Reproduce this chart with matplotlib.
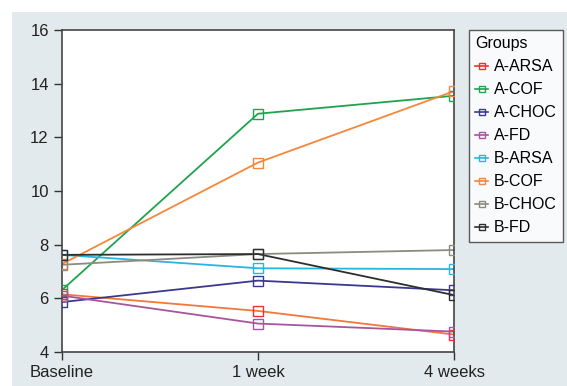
import numpy as np
import matplotlib.pyplot as plt
from matplotlib.patches import Rectangle

plt.rcParams['font.family'] = ['Liberation Sans', 'DejaVu Sans']

times  = ['Baseline', '1 week', '4 weeks']
groups = ['A-ARSA', 'A-COF', 'A-CHOC', 'A-FD', 'B-ARSA', 'B-COF', 'B-CHOC', 'B-FD']

a_arsa = [6.15, 5.53, 4.65]
a_cof  = [6.31, 12.88, 13.55]
a_choc = [5.86, 6.66, 6.30]
a_fd   = [6.10, 5.06, 4.76]
b_arsa = [7.62, 7.12, 7.09]
b_cof  = [7.28, 11.06, 13.72]
b_choc = [7.25, 7.65, 7.80]
b_fd   = [7.62, 7.65, 6.12]

series = [a_arsa, a_cof, a_choc, a_fd, b_arsa, b_cof, b_choc, b_fd]
colors = ['#e8362a', '#1fa34f', '#3b3890', '#a8559e', '#2cb3e6', '#f5873a', '#8c8b80', '#2e2e2e']
line_colors = ['#f3773a', '#1fa34f', '#3b3890', '#a8559e', '#2cb3e6', '#f5873a', '#8c8b80', '#2e2e2e']

fig = plt.figure(figsize=(5.67, 3.86), dpi=100)
fig.patches.append(Rectangle((12/567, 0), 1, 1 - 12/386, transform=fig.transFigure,
                             facecolor='#e2eaed', edgecolor='none', zorder=-10))
ax = fig.add_axes([62/567, 1 - 352/386, (454 - 62)/567, (352 - 30)/386])

x = np.arange(len(times))
for name, vals, c, lc in zip(groups, series, colors, line_colors):
    ax.plot(x, vals, color=lc, lw=1.3, zorder=2)
    ax.plot(x, vals, ls='none', marker='s', ms=6.5, mfc='none', mec=c, mew=1.0, zorder=3)
    ax.plot([], [], color=c, lw=1.2, marker='s', ms=5, mfc='none', mec=c, label=name)

ax.set_xlim(0, 2)
ax.set_ylim(4, 16)
ax.set_xticks(x)
ax.set_xticklabels(times)
ax.set_yticks([4, 6, 8, 10, 12, 14, 16])
ax.tick_params(direction='out', length=6, width=1, colors='#333333', labelsize=12,
               labelcolor='#222222')
for s in ax.spines.values():
    s.set_color('#444444')
    s.set_linewidth(1.2)

leg = ax.legend(title='Groups', loc='upper left', bbox_to_anchor=(469/567, 1 - 30/386),
                bbox_transform=fig.transFigure, frameon=True, fancybox=False,
                fontsize=11.5, title_fontsize=11.5, handlelength=0.8, handletextpad=0.35,
                labelspacing=0.5, borderpad=0.4, borderaxespad=0, alignment='left')
leg.get_frame().set_edgecolor('#333333')
leg.get_frame().set_linewidth(1.0)

fig.savefig('out.png', dpi=100)
